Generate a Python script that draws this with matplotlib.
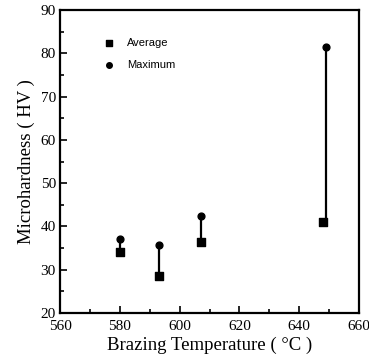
import matplotlib
matplotlib.use("Agg")
import matplotlib.pyplot as plt
from matplotlib.ticker import MultipleLocator

temps_avg = [580, 593, 607, 648]
avg_hv = [34.1, 28.5, 36.4, 41.0]
temps_max = [580, 593, 607, 649]
max_hv = [37.2, 35.8, 42.4, 81.4]

fig = plt.figure(figsize=(3.69, 3.63), dpi=100)
ax = fig.add_axes([60/369, 1-313/363, 299/369, 303/363])
serif = "Liberation Serif"
sans = "Liberation Sans"

for ta, a, tm, m in zip(temps_avg, avg_hv, temps_max, max_hv):
    ax.plot([tm, tm], [a, m], color="black", lw=1.6, zorder=2)
ax.scatter(temps_avg, avg_hv, marker="s", s=36, color="black", zorder=3)
ax.scatter(temps_max, max_hv, marker="o", s=24, color="black", zorder=3)

# legend
ax.scatter([576.4], [82.4], marker="s", s=16, color="black")
ax.scatter([576.4], [77.3], marker="o", s=16, color="black")
ax.text(582.3, 82.4, "Average", family=sans, fontsize=8, va="center")
ax.text(582.3, 77.3, "Maximum", family=sans, fontsize=8, va="center")

ax.set_xlim(560, 660)
ax.set_ylim(20, 90)
ax.xaxis.set_major_locator(MultipleLocator(20))
ax.xaxis.set_minor_locator(MultipleLocator(10))
ax.yaxis.set_major_locator(MultipleLocator(10))
ax.yaxis.set_minor_locator(MultipleLocator(5))
ax.tick_params(which="both", direction="in", width=1.2)
ax.tick_params(which="major", length=5, labelsize=11)
ax.tick_params(which="minor", length=3)
ax.tick_params(axis="x", pad=5)
ax.tick_params(axis="y", pad=3)
for lbl in ax.get_xticklabels() + ax.get_yticklabels():
    lbl.set_family(serif)
for s in ax.spines.values():
    s.set_linewidth(1.6)

ax.set_xlabel("Brazing Temperature ( °C )", family=serif, fontsize=13.5, labelpad=3)
ax.set_ylabel("Microhardness ( HV )", family=serif, fontsize=13.5, labelpad=4)

fig.savefig("out.png", dpi=100)
